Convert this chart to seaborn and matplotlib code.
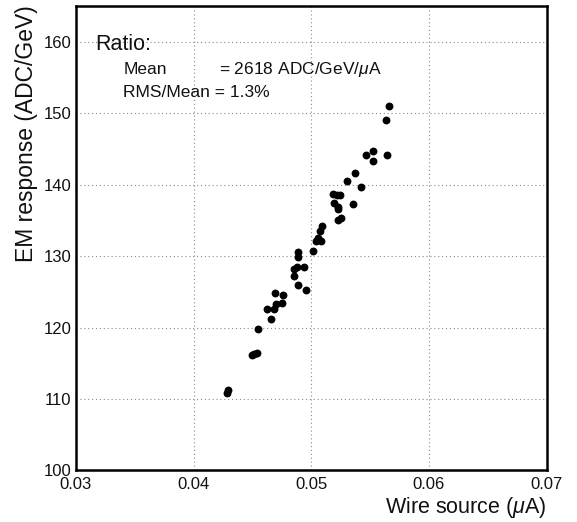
import matplotlib
matplotlib.use("Agg")
import matplotlib.pyplot as plt
from matplotlib.ticker import MultipleLocator, FormatStrFormatter
import seaborn as sns
import pandas as pd

wire_source = [0.05663, 0.05635, 0.05646, 0.05465, 0.05522, 0.05527, 0.05369, 0.05301,
               0.05420, 0.05357, 0.05182, 0.05218, 0.05240, 0.05193, 0.05223, 0.05231,
               0.05227, 0.05255, 0.05088, 0.05074, 0.05059, 0.05082, 0.05044, 0.05017,
               0.04890, 0.04884, 0.04853, 0.04879, 0.04938, 0.04857, 0.04890, 0.04955,
               0.04694, 0.04762, 0.04700, 0.04749, 0.04621, 0.04683, 0.04658, 0.04545,
               0.04513, 0.04536, 0.04494, 0.04281, 0.04295]
em_response = [151.05, 149.09, 144.20, 144.16, 144.66, 143.32, 141.69, 140.57,
               139.64, 137.32, 138.62, 138.48, 138.48, 137.40, 136.80, 136.52,
               135.08, 135.36, 134.22, 133.45, 132.47, 132.05, 132.12, 130.73,
               130.56, 129.89, 128.21, 128.49, 128.42, 127.16, 126.01, 125.28,
               124.83, 124.58, 123.35, 123.44, 122.53, 122.58, 121.16, 119.86,
               116.27, 116.48, 116.13, 110.87, 111.20]
x_ticks = [0.03, 0.04, 0.05, 0.06, 0.07]
y_ticks = [100, 110, 120, 130, 140, 150, 160]

df = pd.DataFrame({"x": wire_source, "y": em_response})

sns.set_style("white")
plt.rcParams['font.family'] = ['Liberation Sans', 'DejaVu Sans']
plt.rcParams['mathtext.fontset'] = 'custom'
plt.rcParams['mathtext.it'] = 'Liberation Sans:italic'
plt.rcParams['mathtext.rm'] = 'Liberation Sans'

fig = plt.figure(figsize=(5.77, 5.22), dpi=100)
ax = fig.add_axes([0.1315, 0.0987, 0.816, 0.890])

sns.scatterplot(data=df, x="x", y="y", ax=ax, color="black", s=32,
                edgecolor="black", linewidth=0, zorder=3)

ax.set_xlim(0.03, 0.07)
ax.set_ylim(100, 165)
ax.set_xticks(x_ticks)
ax.set_yticks(y_ticks)
ax.xaxis.set_major_formatter(FormatStrFormatter('%.2f'))
ax.xaxis.set_minor_locator(MultipleLocator(0.002))
ax.yaxis.set_minor_locator(MultipleLocator(5))
ax.tick_params(which='major', direction='in', length=6, width=1, labelsize=12,
               top=False, right=False, color='black', labelcolor='#111111')
ax.tick_params(axis='x', which='major', pad=5)
ax.tick_params(axis='y', which='major', pad=3)
ax.tick_params(which='minor', direction='in', length=3.5, width=0.8,
               top=False, right=False, color='black')
ax.grid(True, which='major', linestyle=(0, (1, 2.5)), color='#8a8a8a', linewidth=0.8)
for sp in ax.spines.values():
    sp.set_linewidth(1.8)
    sp.set_color('black')

ax.set_xlabel("")
ax.set_ylabel("")
fig.text(0.9475, 0.003, r"Wire source ($\mu$A)", ha='right', va='bottom', fontsize=15.5,
         color='#111111')
fig.text(0.026, 0.989, "EM response (ADC/GeV)", ha='left', va='top', rotation=90,
         fontsize=16.5, color='#111111')

ax.text(0.042, 0.905, "Ratio:", transform=ax.transAxes, fontsize=15.5, ha='left',
        va='baseline', color='#111111')
ax.text(0.101, 0.853, "Mean", transform=ax.transAxes, fontsize=12.5, ha='left',
        va='baseline', color='#111111')
ax.text(0.303, 0.853, r"= 2618 ADC/GeV/$\mu$A", transform=ax.transAxes, fontsize=12.5,
        ha='left', va='baseline', color='#111111')
ax.text(0.101, 0.803, "RMS/Mean = 1.3%", transform=ax.transAxes, fontsize=12.5,
        ha='left', va='baseline', color='#111111')

fig.savefig("out.png", dpi=100)
